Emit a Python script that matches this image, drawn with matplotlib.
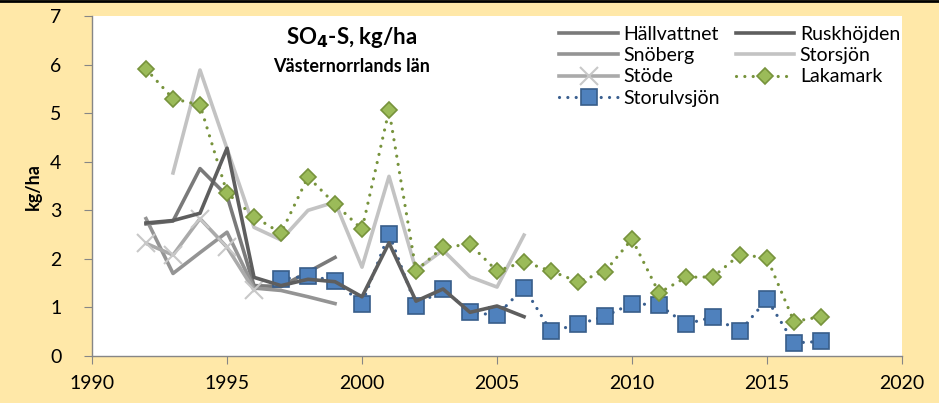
import numpy as np
import matplotlib.pyplot as plt

plt.rcParams['font.family'] = ['Lato', 'DejaVu Sans']

# --- data ---
years_hall = [1992, 1993, 1994, 1995, 1996, 1997, 1998, 1999]
hallvattnet = [2.72, 2.78, 3.86, 3.30, 1.45, 1.43, 1.73, 2.03]

years_rusk = list(range(1992, 2007))
ruskhojden = [2.74, 2.79, 2.94, 4.28, 1.62, 1.45, 1.58, 1.53, 1.22, 2.33, 1.13,
              1.38, 0.90, 1.03, 0.81]

years_snob = [1992, 1993, 1994, 1995, 1996, 1997, 1998, 1999]
snoberg = [2.83, 1.70, 2.13, 2.55, 1.40, 1.35, 1.22, 1.08]

years_stors = list(range(1993, 2007))
storsjon = [3.77, 5.89, 4.27, 2.65, 2.39, 3.00, 3.17, 1.83, 3.70, 1.77, 2.18,
            1.63, 1.42, 2.49]

years_stode = [1992, 1993, 1994, 1995, 1996]
stode = [2.32, 2.08, 2.83, 2.24, 1.36]

years_laka = list(range(1992, 2018))
lakamark = [5.91, 5.30, 5.17, 3.36, 2.87, 2.53, 3.69, 3.13, 2.61, 5.06, 1.76,
            2.24, 2.30, 1.75, 1.94, 1.75, 1.53, 1.74, 2.41, 1.30, 1.62, 1.63,
            2.09, 2.02, 0.71, 0.81]

years_ulv = list(range(1997, 2018))
storulvsjon = [1.58, 1.65, 1.55, 1.08, 2.52, 1.03, 1.38, 0.90, 0.84, 1.41, 0.51,
               0.65, 0.82, 1.08, 1.05, 0.66, 0.80, 0.51, 1.17, 0.27, 0.30]

bg = '#FFE8A8'
fig = plt.figure(figsize=(9.39, 4.03), dpi=100, facecolor=bg)
ax = fig.add_axes([0.098, 0.1166, 0.8626, 0.8434])
ax.set_facecolor('white')

lw = 2.6
dots = (0, (0.01, 2.6))
h1, = ax.plot(years_hall, hallvattnet, color='#7A7A7A', lw=lw, label='Hällvattnet')
h2, = ax.plot(years_rusk, ruskhojden, color='#5E5E5E', lw=lw, label='Ruskhöjden')
h3, = ax.plot(years_snob, snoberg, color='#949494', lw=lw, label='Snöberg')
h4, = ax.plot(years_stors, storsjon, color='#C3C3C3', lw=lw, label='Storsjön')
h5, = ax.plot(years_stode, stode, color='#AAAAAA', lw=lw, marker='x', ms=13,
              mec='#C8C8C8', mew=1.5, label='Stöde')
h6, = ax.plot(years_laka, lakamark, color='#77933C', lw=2.3, ls=dots,
              dash_capstyle='round', marker='D', ms=8.5, mfc='#9BBB59',
              mec='#77933C', mew=1.2, label='Lakamark')
h7, = ax.plot(years_ulv, storulvsjon, color='#3A5F8F', lw=2.3, ls=dots,
              dash_capstyle='round', marker='s', ms=12, mfc='#4F81BD',
              mec='#385D8A', mew=1.2, label='Storulvsjön')
# solid dark line drawn over the dotted blue one
h2.set_zorder(3)
h7.set_zorder(2.5)
h6.set_zorder(2.6)

ax.set_xlim(1990, 2020)
ax.set_ylim(0, 7)
ax.set_xticks(range(1990, 2021, 5))
ax.set_yticks(range(0, 8))
for s in ['top', 'right']:
    ax.spines[s].set_visible(False)
for s in ['left', 'bottom']:
    ax.spines[s].set_color('#868686')
    ax.spines[s].set_linewidth(1)
ax.tick_params(direction='out', length=6, color='#868686', labelsize=14,
               labelcolor='black')
ax.tick_params(axis='x', pad=8)
ax.tick_params(axis='y', pad=16)
ax.set_ylabel('kg/ha', fontsize=13, fontweight='bold', labelpad=6)

ax.text(0.321, 0.938, r'SO$_\mathbf{4}$-S, kg/ha', transform=ax.transAxes,
        ha='center', va='center', fontsize=16, fontweight='bold')
ax.text(0.321, 0.852, 'Västernorrlands län', transform=ax.transAxes,
        ha='center', va='center', fontsize=13, fontweight='bold')

leg = ax.legend(handles=[h1, h3, h5, h7, h2, h4, h6], ncol=2, loc='upper left',
                bbox_to_anchor=(0.565, 1.0), frameon=False, fontsize=14,
                handlelength=3.0, handletextpad=0.3, columnspacing=0.8,
                labelspacing=0.22, borderaxespad=0.1)

fig.add_artist(plt.Line2D([0, 1], [0.997, 0.997], transform=fig.transFigure,
                          color='black', lw=2))

fig.savefig('out.png', dpi=100, facecolor=bg)
